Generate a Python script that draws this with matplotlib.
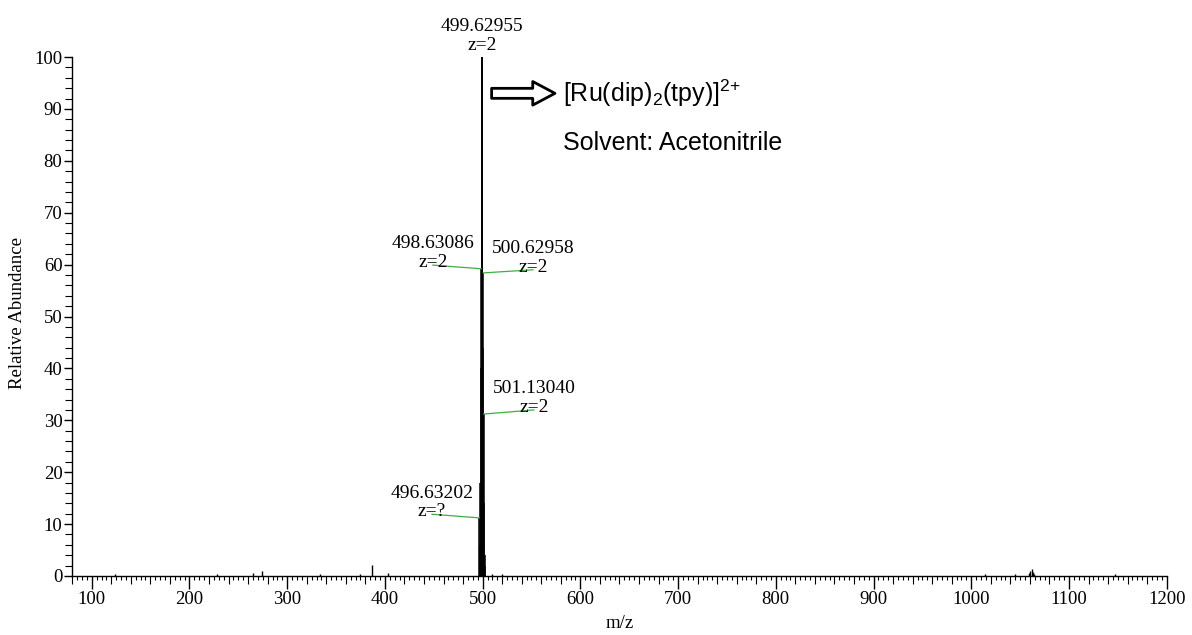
import matplotlib
matplotlib.use("Agg")
import matplotlib.pyplot as plt
from matplotlib.ticker import MultipleLocator

plt.rcParams["font.family"] = ["Liberation Serif", "DejaVu Serif"]
plt.rcParams["mathtext.fontset"] = "custom"
plt.rcParams["mathtext.rm"] = "Liberation Sans"
plt.rcParams["mathtext.default"] = "rm"

# isotope cluster of the doubly charged ion
cluster_mz = [496.63202, 497.13, 497.63, 498.13, 498.63086, 499.13,
              499.62955, 500.13, 500.62958, 501.13040, 501.63, 502.13, 502.63]
cluster_int = [11.2, 6.0, 18.0, 40.0, 59.2, 46.0,
               100.0, 44.0, 58.4, 31.2, 14.0, 4.0, 2.0]

# minor peaks / baseline noise
noise_mz = [123.8, 227.9, 265.3, 274.5, 333.6, 374.5, 387.1, 403.5,
            510.0, 520.0, 1013.9, 1044.7, 1059.5, 1060.5, 1061.8, 1062.8, 1064.0, 1147.0]
noise_int = [0.3, 0.3, 0.5, 1.0, 0.4, 0.4, 2.05, 0.5,
             0.4, 0.3, 0.3, 0.4, 0.5, 0.9, 1.4, 0.8, 0.4, 0.4]

# labelled peaks: m/z, intensity, charge, label anchor (m/z, %)
label_mz = [499.62955, 498.63086, 500.62958, 501.13040, 496.63202]
label_int = [100.0, 59.2, 58.4, 31.2, 11.2]
label_z = ["z=2", "z=2", "z=2", "z=2", "z=?"]
anchor_mz = [None, 449.1, 551.5, 552.5, 448.1]
anchor_int = [None, 59.9, 59.0, 32.0, 11.9]

fig = plt.figure(figsize=(11.92, 6.35), dpi=100)
ax = fig.add_axes([72.2 / 1192, 1 - 576 / 635, (1166.7 - 72.2) / 1192, (576 - 57) / 635])

ax.vlines(noise_mz, 0, noise_int, color="black", lw=1.0)
ax.vlines(cluster_mz, 0, cluster_int, color="black", lw=1.1)
ax.vlines([label_mz[0]], 0, [label_int[0]], color="black", lw=1.4)

ax.set_xlim(80, 1200)
ax.set_ylim(0, 100)

# peak labels
for i in range(len(label_mz)):
    txt = f"{label_mz[i]:.5f}\n{label_z[i]}"
    if anchor_mz[i] is None:
        ax.annotate(txt, xy=(label_mz[i], label_int[i]), xytext=(0, 2),
                    textcoords="offset points", ha="center", va="bottom",
                    fontsize=14, linespacing=1.15, annotation_clip=False)
    else:
        ax.plot([anchor_mz[i], label_mz[i]], [anchor_int[i], label_int[i]],
                color="#3cb043", lw=0.9)
        ax.annotate(txt, xy=(anchor_mz[i], anchor_int[i]), xytext=(0, -4.5),
                    textcoords="offset points", ha="center", va="bottom",
                    fontsize=14, linespacing=1.15)

# hollow arrow + compound text
ax.annotate("", xy=(574, 93), xytext=(509.2, 93),
            arrowprops=dict(arrowstyle="simple,head_length=0.8,head_width=0.85,tail_width=0.36",
                            fc="white", ec="black", lw=2.0, mutation_scale=20,
                            shrinkA=0, shrinkB=0))
ax.text(582.3, 93, r"[Ru(dip)$_2$(tpy)]$^{2{+}}$", family="Liberation Sans",
        fontsize=18, ha="left", va="center")
ax.text(582.3, 83.5, "Solvent: Acetonitrile", family="Liberation Sans",
        fontsize=18, ha="left", va="center")

# axes styling
for side in ["top", "right"]:
    ax.spines[side].set_visible(False)
ax.spines["left"].set_linewidth(1.0)
ax.spines["bottom"].set_linewidth(1.0)

ax.xaxis.set_major_locator(MultipleLocator(100))
ax.xaxis.set_minor_locator(MultipleLocator(5))
ax.yaxis.set_major_locator(MultipleLocator(10))
ax.yaxis.set_minor_locator(MultipleLocator(2))
ax.tick_params(axis="x", which="major", length=9.5, width=1.0, pad=1, labelsize=13.5)
ax.tick_params(axis="x", which="minor", length=3, width=0.8)
ax.tick_params(axis="y", which="major", length=6, width=1.0, pad=1, labelsize=13.5)
ax.tick_params(axis="y", which="minor", length=5, width=0.8)

# longer ticks every 20 m/z
fig.canvas.draw()
for t, loc in zip(ax.xaxis.get_minor_ticks(), ax.xaxis.get_minorticklocs()):
    if round(loc) % 20 == 0:
        t.tick1line.set_markersize(6)

ax.set_xlabel("m/z", fontsize=13.5)
ax.xaxis.set_label_coords(0.5, -0.075)
ax.set_ylabel("Relative Abundance", fontsize=13.5)
ax.yaxis.set_label_coords(-0.042, 0.507)

fig.savefig("out.png", dpi=100)
